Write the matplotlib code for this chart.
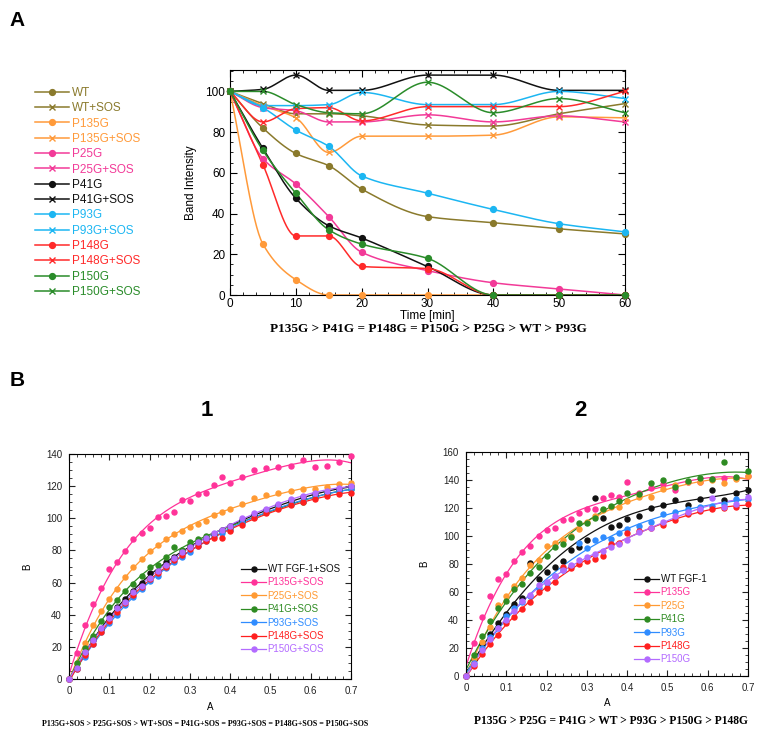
import numpy as np
import matplotlib
matplotlib.use('Agg')
import matplotlib.pyplot as plt
from matplotlib.ticker import MultipleLocator, FuncFormatter
from matplotlib.lines import Line2D

plt.rcParams['font.family'] = ['Liberation Sans', 'DejaVu Sans']

# ---------------- Panel A data ----------------
time_min = [0, 5, 10, 15, 20, 30, 40, 50, 60]
a_labels = ['WT', 'WT+SOS', 'P135G', 'P135G+SOS', 'P25G', 'P25G+SOS', 'P41G', 'P41G+SOS',
            'P93G', 'P93G+SOS', 'P148G', 'P148G+SOS', 'P150G', 'P150G+SOS']
wt = [100, 82, 69.5, 63.5, 52, 38.5, 35.5, 32.5, 30]
wt_sos = [100, 94, 89, 89, 88, 83.5, 83, 89, 94]
p135g = [100, 25, 7.5, 0, 0, 0, 0, 0, 0]
p135g_sos = [100, 93, 87, 70, 78, 78, 78.5, 87.5, 87]
p25g = [100, 67, 54.5, 38.5, 21, 12, 6, 3, 0]
p25g_sos = [100, 92, 90.5, 85, 85, 88.5, 85, 88, 85]
p41g = [100, 72, 47.5, 34, 28, 14, 0, 0, 0]
p41g_sos = [100, 101, 108, 100.5, 100.5, 108, 108, 100.5, 100.5]
p93g = [100, 92, 81, 73, 58.5, 50, 42, 35, 31]
p93g_sos = [100, 93, 93, 93.5, 99.5, 93.5, 93.5, 100, 96.5]
p148g = [100, 64, 29, 29, 14, 13, 0, 0, 0]
p148g_sos = [100, 85, 91.5, 92, 85.5, 92.5, 92.5, 92.5, 100]
p150g = [100, 71, 50, 32, 25, 18, 0, 0, 0]
p150g_sos = [100, 100, 93.5, 89.5, 89, 104.5, 89.5, 96.5, 89.5]
a_values = [wt, wt_sos, p135g, p135g_sos, p25g, p25g_sos, p41g, p41g_sos,
            p93g, p93g_sos, p148g, p148g_sos, p150g, p150g_sos]
a_colors = ['#8a7a2c', '#8a7a2c', '#ff9a3a', '#ff9a3a', '#f23a98', '#f23a98', '#111111', '#111111',
            '#1cb6f2', '#1cb6f2', '#ff2a2a', '#ff2a2a', '#2a8c2a', '#2a8c2a']

# ---------------- Panel B data ----------------
conc = [0, .02, .04, .06, .08, .10, .12, .14, .16, .18, .20, .22, .24, .26, .28, .30, .32, .34, .36, .38, .40,
        .43, .46, .49, .52, .55, .58, .61, .64, .67, .70]

b1_labels = ['WT FGF-1+SOS', 'P135G+SOS', 'P25G+SOS', 'P41G+SOS', 'P93G+SOS', 'P148G+SOS', 'P150G+SOS']
b1_wt = [0, 7, 16, 24, 31, 40, 45, 50, 55, 60, 66, 67, 73, 76, 79, 83, 85, 88, 90, 93, 95,
         99, 102, 105, 108, 111, 113, 115, 116, 118, 120]
b1_p135 = [0, 16, 33.6, 46.7, 56.6, 68.3, 72.8, 79.5, 87, 90.7, 93.8, 101, 101.7, 104, 111.4, 111, 115, 115.6,
           121, 125.5, 122.2, 125.5, 130, 131, 132, 132.5, 136.5, 131.7, 132.7, 134.8, 138.5]
b1_p25 = [0, 10, 22.6, 33.6, 42.3, 49.8, 55.8, 63.3, 69.9, 74.5, 79.5, 83.6, 86.9, 90, 92.3, 94.4, 96.5, 98.5,
          102, 104, 105.6, 108.7, 112.8, 114.3, 115.5, 117.2, 118, 118.2, 119.7, 121.1, 122.2]
b1_p41 = [0, 10, 19, 27, 36, 45, 49, 55, 59, 64, 70, 71, 76, 82, 80, 85, 87, 89, 90, 92, 94,
          98, 101, 104, 107, 109, 110, 113, 115, 117, 118]
b1_p93 = [0, 6, 14, 22, 29, 35, 40, 46, 51, 56, 61, 64, 69, 73, 76, 79, 83, 86, 89, 91, 93,
          97, 101, 104, 107, 109, 111, 113, 115, 117, 118]
b1_p148 = [0, 6, 15, 22, 29, 36, 42, 47, 52, 57, 62, 66, 70, 74, 77, 81, 83, 86, 88, 88, 92,
           96, 100, 103, 106, 108, 110, 112, 114, 115, 116]
b1_p150 = [0, 7, 17, 24, 32, 38, 44, 48, 54, 58, 63, 67, 71, 75, 79, 82, 85, 88, 91, 93, 95,
           100, 103, 106, 109, 112, 114, 116, 117, 119, 120]
b1_values = [b1_wt, b1_p135, b1_p25, b1_p41, b1_p93, b1_p148, b1_p150]

b2_labels = ['WT FGF-1', 'P135G', 'P25G', 'P41G', 'P93G', 'P148G', 'P150G']
b2_wt = [0, 12, 23, 30, 38, 44, 51.4, 55.5, 80.5, 69, 74.5, 78, 82, 89.8, 92, 97, 127, 113, 106.7, 108, 112,
         114, 119.8, 122, 126, 122, 126.7, 132.6, 126, 131, 133]
b2_p135 = [0, 23.6, 41.9, 56.9, 69.3, 73, 82.4, 88.3, 92.6, 99.8, 104, 105.7, 111.7, 112.4, 116.2, 119.3, 119.3,
           127, 129.3, 128, 138.8, 131, 134, 136.9, 132.9, 138.8, 138.8, 140.7, 141.2, 141.6, 142.9]
b2_p25 = [0, 13, 24, 35, 51, 57, 64, 70, 79, 83, 93, 95, 97, 100, 105, 110, 114, 118.6, 121, 120.5, 125,
          128, 127.6, 133.3, 136.4, 138.5, 138.3, 140, 138, 140.9, 142.8]
b2_p41 = [0, 15, 28.6, 39, 48.8, 53.6, 62, 66, 73.3, 78, 85.5, 92.5, 94.5, 99.5, 109, 109, 113, 119, 121.6,
          125, 131, 130, 137.9, 140, 134.8, 139, 141.7, 140.7, 153, 142, 146.7]
b2_p93 = [0, 9.3, 20, 28, 34, 42.6, 48.7, 53, 57, 62.6, 66.7, 71.4, 75.5, 78.6, 94.8, 91.2, 97, 99.5, 98,
          102.1, 105, 107, 110.2, 116, 117.4, 119, 121, 121.4, 123, 126.2, 126.2]
b2_p148 = [0, 6.9, 15.7, 23.1, 29.5, 37.9, 42.4, 47.9, 52.6, 59.8, 62.9, 67.1, 77.9, 77.1, 80, 81.9, 83.8,
           85.5, 94, 94.8, 101.9, 103.6, 106, 107.9, 111.4, 115.7, 117.9, 119, 119.8, 121, 122.6]
b2_p150 = [0, 8.6, 18.3, 26.6, 34.3, 40, 46.7, 53.3, 58, 65.2, 66.9, 71.2, 76, 79.5, 83.1, 85, 87.1, 89.5,
           92, 94, 97, 103, 106, 110, 114, 117, 119, 127, 121, 123, 128]
b2_values = [b2_wt, b2_p135, b2_p25, b2_p41, b2_p93, b2_p148, b2_p150]

b_colors = ['#111111', '#ff3399', '#ff9a33', '#2e8b22', '#2f8cff', '#ff1f1f', '#b36bff']

caption_a = 'P135G > P41G = P148G = P150G > P25G > WT > P93G'
caption_b1 = 'P135G+SOS > P25G+SOS > WT+SOS = P41G+SOS = P93G+SOS = P148G+SOS = P150G+SOS'
caption_b2 = 'P135G > P25G = P41G > WT > P93G > P150G > P148G'


def pchip(x, y, xs):
    x = np.asarray(x, float)
    y = np.asarray(y, float)
    h = np.diff(x)
    d = np.diff(y) / h
    n = len(x)
    m = np.zeros(n)
    m[0] = d[0]
    m[-1] = d[-1]
    for k in range(1, n - 1):
        if d[k - 1] * d[k] <= 0:
            m[k] = 0.0
        else:
            w1 = 2 * h[k] + h[k - 1]
            w2 = h[k] + 2 * h[k - 1]
            m[k] = (w1 + w2) / (w1 / d[k - 1] + w2 / d[k])
    idx = np.clip(np.searchsorted(x, xs) - 1, 0, n - 2)
    hk = h[idx]
    s = (xs - x[idx]) / hk
    h00 = 2 * s**3 - 3 * s**2 + 1
    h10 = s**3 - 2 * s**2 + s
    h01 = -2 * s**3 + 3 * s**2
    h11 = s**3 - s**2
    return h00 * y[idx] + h10 * hk * m[idx] + h01 * y[idx + 1] + h11 * hk * m[idx + 1]


fig = plt.figure(figsize=(7.63, 7.34), dpi=100)

# ---------------- Panel A ----------------
axA = fig.add_axes([230 / 763, 1 - 295 / 734, 395 / 763, 225 / 734])
handles = []
tt = np.linspace(0, 60, 400)
for lab, vals, col in zip(a_labels, a_values, a_colors):
    mk = 'x' if 'SOS' in lab else 'o'
    ms = 4.5 if mk == 'x' else 4.2
    axA.plot(tt, pchip(time_min, vals, tt), color=col, lw=1.1)
    axA.plot(time_min, vals, mk, color=col, ms=ms, mew=1.0, clip_on=False, zorder=3)
    handles.append(Line2D([], [], color=col, lw=1.1, marker=mk, ms=ms, mew=1.0))
axA.set_xlim(0, 60)
axA.set_ylim(0, 110.5)
axA.xaxis.set_major_locator(MultipleLocator(10))
axA.xaxis.set_minor_locator(MultipleLocator(2))
axA.yaxis.set_major_locator(MultipleLocator(20))
axA.yaxis.set_minor_locator(MultipleLocator(5))
axA.tick_params(which='both', direction='in', top=True, right=True, labelsize=8.5)
axA.tick_params(which='major', length=5)
axA.tick_params(which='minor', length=2.5)
axA.tick_params(axis='x', pad=2.5)
axA.set_xlabel('Time [min]', fontsize=8.5, labelpad=0)
axA.set_ylabel('Band Intensity', fontsize=8.5, labelpad=6)

fig.legend(handles, a_labels, loc='upper left', bbox_to_anchor=(35 / 763, 1 - 87 / 734),
           frameon=False, fontsize=8.5, labelcolor=a_colors, handlelength=2.9,
           handletextpad=0.2, labelspacing=0.28, borderpad=0, borderaxespad=0, numpoints=1)

fig.text(428 / 763, 1 - 329 / 734, caption_a, ha='center', va='center',
         fontsize=9.5, fontweight='bold', family=['Liberation Serif', 'DejaVu Serif'])


# ---------------- Panel B ----------------
def fmt01(v, p):
    return '0' if abs(v) < 1e-9 else f'{v:.1f}'


def panel_b(rect, vals_list, labels, ymax, leg_anchor):
    ax = fig.add_axes(rect)
    x = np.asarray(conc)
    xf = np.linspace(0, 0.7, 300)
    hs = []
    for vals, col in zip(vals_list, b_colors):
        coef = np.polyfit(x, vals, 4)
        ax.plot(xf, np.polyval(coef, xf), color=col, lw=0.9)
        ax.plot(x, vals, 'o', color=col, ms=3.6, clip_on=False, zorder=3)
        hs.append(Line2D([], [], color=col, lw=0.9, marker='o', ms=3.6))
    ax.set_xlim(0, 0.7)
    ax.set_ylim(0, ymax)
    ax.xaxis.set_major_locator(MultipleLocator(0.1))
    ax.xaxis.set_minor_locator(MultipleLocator(0.02))
    ax.xaxis.set_major_formatter(FuncFormatter(fmt01))
    ax.yaxis.set_major_locator(MultipleLocator(20))
    ax.yaxis.set_minor_locator(MultipleLocator(5))
    ax.tick_params(which='both', direction='in', top=True, right=True, labelsize=7, colors='#222222')
    ax.tick_params(which='major', length=4, pad=5)
    ax.tick_params(which='minor', length=2)
    for sp in ax.spines.values():
        sp.set_linewidth(0.8)
    ax.set_xlabel('A', fontsize=7, labelpad=4)
    ax.set_ylabel('B', fontsize=7, labelpad=10)
    fig.legend(hs, labels, loc='upper left', bbox_to_anchor=leg_anchor, frameon=False, fontsize=7,
               labelcolor=b_colors, handlelength=2.6, handletextpad=0.15, labelspacing=0.35,
               borderpad=0, borderaxespad=0, numpoints=1)
    return ax


panel_b([69 / 763, 1 - 679 / 734, 282 / 763, 225 / 734], b1_values, b1_labels, 140,
        (241 / 763, 1 - 564 / 734))
panel_b([466 / 763, 1 - 676 / 734, 282 / 763, 224 / 734], b2_values, b2_labels, 160,
        (634 / 763, 1 - 574 / 734))

fig.text(205 / 763, 1 - 724 / 734, caption_b1, ha='center', va='center', fontsize=5.8,
         fontweight='bold', family=['Liberation Serif', 'DejaVu Serif'])
fig.text(611 / 763, 1 - 721 / 734, caption_b2, ha='center', va='center', fontsize=8.3,
         fontweight='bold', family=['Liberation Serif', 'DejaVu Serif'])

fig.text(17 / 763, 1 - 20 / 734, 'A', ha='center', va='center', fontsize=15, fontweight='bold')
fig.text(17 / 763, 1 - 380 / 734, 'B', ha='center', va='center', fontsize=15, fontweight='bold')
fig.text(207 / 763, 1 - 410 / 734, '1', ha='center', va='center', fontsize=16, fontweight='bold')
fig.text(580 / 763, 1 - 410 / 734, '2', ha='center', va='center', fontsize=16, fontweight='bold')

fig.savefig('out.png', dpi=100)
